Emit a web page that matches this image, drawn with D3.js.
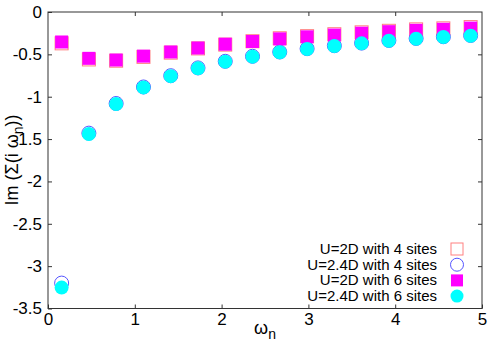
<!DOCTYPE html>
<html>
<head>
<meta charset="utf-8">
<script src="https://cdn.jsdelivr.net/npm/d3@7"></script>
<style>
  body { margin: 0; background: #fff; }
  text { font-family: "Liberation Sans", Arial, sans-serif; }
</style>
</head>
<body>
<svg id="chart" width="500" height="350"></svg>
<script>
// Matsubara frequencies (x)
var wn = [0.157, 0.471, 0.785, 1.100, 1.414, 1.728, 2.042, 2.356, 2.670, 2.985, 3.299, 3.613, 3.927, 4.241, 4.555, 4.869];

// Im Sigma values
var u2Sites4  = [-0.37, -0.56, -0.575, -0.53, -0.48, -0.43, -0.385, -0.345, -0.31, -0.285, -0.262, -0.24, -0.222, -0.205, -0.193, -0.178];
var u24Sites4 = [-3.20, -1.43, -1.08, -0.885, -0.752, -0.66, -0.582, -0.523, -0.472, -0.433, -0.398, -0.367, -0.336, -0.312, -0.292, -0.277];
var u2Sites6  = [-0.354, -0.547, -0.567, -0.521, -0.472, -0.425, -0.380, -0.348, -0.317, -0.293, -0.272, -0.250, -0.232, -0.216, -0.204, -0.190];
var u24Sites6 = [-3.253, -1.44, -1.086, -0.89, -0.757, -0.665, -0.586, -0.527, -0.476, -0.437, -0.401, -0.370, -0.339, -0.315, -0.295, -0.280];

var xTicks = [0, 1, 2, 3, 4, 5];
var yTicks = [0, -0.5, -1, -1.5, -2, -2.5, -3, -3.5];

var labels = ['U=2D with 4 sites', 'U=2.4D with 4 sites', 'U=2D with 6 sites', 'U=2.4D with 6 sites'];

var series = [
    { name: labels[0], vals: u2Sites4,  shape: 'square', fill: 'none',    stroke: '#ff8080' },
    { name: labels[1], vals: u24Sites4, shape: 'circle', fill: 'none',    stroke: '#5555ff' },
    { name: labels[2], vals: u2Sites6,  shape: 'square', fill: '#ff00ff', stroke: 'none' },
    { name: labels[3], vals: u24Sites6, shape: 'circle', fill: '#00ffff', stroke: 'none' }
];

var padL = 48, padR = 482, padT = 12, padB = 308.5;
var tickFont = 17, legFont = 15, labFont = 18;

var svg = d3.select('#chart');
var x = d3.scaleLinear().domain([0, 5]).range([padL, padR]);
var y = d3.scaleLinear().domain([-3.5, 0]).range([padB, padT]);

function fmt(d) { return String(d).replace('\u2212', '-'); }

function styleAxis(g) {
    g.select('.domain').remove();
    g.selectAll('line').attr('stroke', '#333');
    g.selectAll('text').attr('font-size', tickFont).attr('fill', '#000')
        .attr('font-family', '"Liberation Sans", Arial, sans-serif');
}

svg.append('g').attr('transform', 'translate(0,' + padB + ')')
    .call(d3.axisBottom(x).tickValues(xTicks).tickSize(-4).tickPadding(4).tickFormat(fmt))
    .call(styleAxis);
svg.append('g').attr('transform', 'translate(0,' + padT + ')')
    .call(d3.axisTop(x).tickValues(xTicks.slice(1, -1)).tickSize(-4).tickFormat(''))
    .call(styleAxis);
svg.append('g').attr('transform', 'translate(' + padL + ',0)')
    .call(d3.axisLeft(y).tickValues(yTicks).tickSize(-4).tickPadding(6).tickFormat(fmt))
    .call(styleAxis);
svg.append('g').attr('transform', 'translate(' + padR + ',0)')
    .call(d3.axisRight(y).tickValues(yTicks.slice(1, -1)).tickSize(-4).tickFormat(''))
    .call(styleAxis);

// frame
svg.append('rect').attr('x', padL).attr('y', padT)
    .attr('width', padR - padL).attr('height', padB - padT)
    .attr('fill', 'none').attr('stroke', '#333').attr('stroke-width', 1);

function drawMark(g, shape, cx, cy, size, s) {
    if (shape === 'square') {
        g.append('rect').attr('x', cx - size / 2).attr('y', cy - size / 2)
            .attr('width', size).attr('height', size)
            .attr('fill', s.fill).attr('stroke', s.stroke).attr('stroke-width', 1);
    } else {
        g.append('circle').attr('cx', cx).attr('cy', cy).attr('r', size / 2)
            .attr('fill', s.fill).attr('stroke', s.stroke).attr('stroke-width', 1);
    }
}

var marks = svg.append('g');
series.forEach(function(s) {
    var g = marks.append('g');
    s.vals.forEach(function(v, i) {
        drawMark(g, s.shape, x(wn[i]), y(v), s.shape === 'square' ? 13 : 14, s);
    });
});

// legend
var leg = svg.append('g');
series.forEach(function(s, i) {
    var cy = 249 + i * 15.7;
    leg.append('text').attr('x', 437).attr('y', cy + 5)
        .attr('text-anchor', 'end').attr('font-size', legFont).text(s.name);
    drawMark(leg, s.shape, 457, cy, s.shape === 'square' ? 12 : 13, s);
});

// axis labels
var xl = svg.append('text').attr('x', 265).attr('y', 334)
    .attr('text-anchor', 'middle').attr('font-size', labFont);
xl.append('tspan').text('\u03c9');
xl.append('tspan').attr('dy', 5).attr('font-size', 14).text('n');

var yl = svg.append('text').attr('transform', 'translate(18,160) rotate(-90)')
    .attr('text-anchor', 'middle').attr('font-size', labFont);
yl.append('tspan').text('Im (\u03a3(i \u03c9');
yl.append('tspan').attr('dy', 5).attr('font-size', 14).text('n');
yl.append('tspan').attr('dy', -5).text('))');
</script>
</body>
</html>
